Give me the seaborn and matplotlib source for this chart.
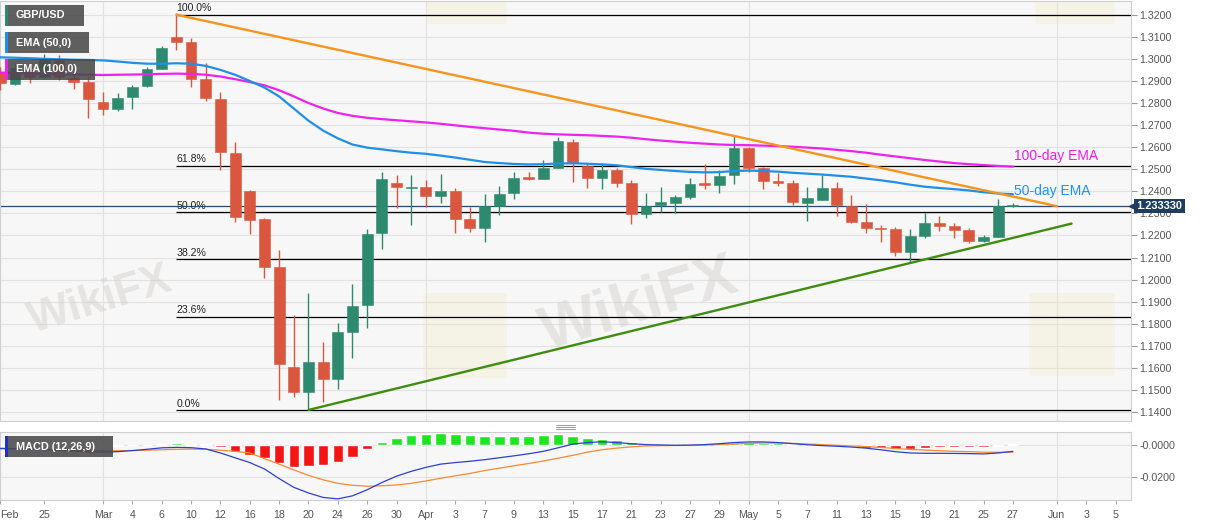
import numpy as np
import pandas as pd
import matplotlib.pyplot as plt
import seaborn as sns
from matplotlib.patches import Rectangle, FancyBboxPatch
from matplotlib.lines import Line2D

sns.set_theme(style="white")
plt.rcParams['font.family'] = ['Liberation Sans', 'DejaVu Sans']

# --- data (GBP/USD daily) ---
candle_days = pd.bdate_range('2020-02-20', '2020-05-27')
axis_days = pd.bdate_range('2020-02-20', '2020-06-05')

opens = [1.2942, 1.2886, 1.2950, 1.2920, 1.2998, 1.2912, 1.2893, 1.2806, 1.2772, 1.2825,
         1.2877, 1.2954, 1.3101, 1.3075, 1.2909, 1.2820, 1.2575, 1.2402, 1.2273, 1.2059,
         1.1606, 1.1490, 1.1626, 1.1549, 1.1762, 1.1885, 1.2210, 1.2437, 1.2416, 1.2418,
         1.2379, 1.2402, 1.2273, 1.2236, 1.2335, 1.2391, 1.2464, 1.2456, 1.2507, 1.2625,
         1.2517, 1.2459, 1.2497, 1.2440, 1.2298, 1.2338, 1.2349, 1.2376, 1.2437, 1.2429,
         1.2474, 1.2595, 1.2504, 1.2449, 1.2440, 1.2349, 1.2361, 1.2417, 1.2335, 1.2263,
         1.2233, 1.2231, 1.2124, 1.2198, 1.2257, 1.2243, 1.2225, 1.2177, 1.2192, 1.2332]
highs = [1.2965, 1.2980, 1.2975, 1.3022, 1.3018, 1.2927, 1.2920, 1.2852, 1.2847, 1.2882,
         1.2965, 1.3059, 1.3207, 1.3093, 1.2980, 1.2852, 1.2625, 1.2408, 1.2278, 1.2134,
         1.1840, 1.1938, 1.1716, 1.1802, 1.1979, 1.2231, 1.2489, 1.2474, 1.2474, 1.2452,
         1.2479, 1.2414, 1.2331, 1.2387, 1.2424, 1.2486, 1.2489, 1.2542, 1.2648, 1.2636,
         1.2527, 1.2527, 1.2504, 1.2452, 1.2394, 1.2418, 1.2384, 1.2459, 1.2524, 1.2497,
         1.2651, 1.2603, 1.2512, 1.2485, 1.2452, 1.2421, 1.2474, 1.2444, 1.2384, 1.2343,
         1.2248, 1.2240, 1.2231, 1.2301, 1.2290, 1.2255, 1.2233, 1.2202, 1.2367, 1.2346]
lows = [1.2859, 1.2882, 1.2889, 1.2912, 1.2902, 1.2862, 1.2731, 1.2746, 1.2764, 1.2772,
        1.2871, 1.2953, 1.3041, 1.2874, 1.2807, 1.2497, 1.2263, 1.2205, 1.2006, 1.1455,
        1.1470, 1.1413, 1.1448, 1.1503, 1.1644, 1.1780, 1.2138, 1.2323, 1.2248, 1.2331,
        1.2349, 1.2210, 1.2215, 1.2169, 1.2293, 1.2364, 1.2452, 1.2456, 1.2507, 1.2441,
        1.2414, 1.2409, 1.2418, 1.2251, 1.2278, 1.2308, 1.2301, 1.2364, 1.2409, 1.2391,
        1.2433, 1.2489, 1.2409, 1.2424, 1.2338, 1.2267, 1.2361, 1.2288, 1.2258, 1.2213,
        1.2169, 1.2107, 1.2082, 1.2187, 1.2222, 1.2187, 1.2165, 1.2171, 1.2192, 1.2331]
closes = [1.2889, 1.2957, 1.2920, 1.2998, 1.2917, 1.2893, 1.2820, 1.2772, 1.2822, 1.2874,
          1.2953, 1.3051, 1.3078, 1.2911, 1.2822, 1.2577, 1.2282, 1.2270, 1.2059, 1.1617,
          1.1490, 1.1626, 1.1549, 1.1762, 1.1882, 1.2207, 1.2456, 1.2418, 1.2418, 1.2379,
          1.2402, 1.2273, 1.2236, 1.2335, 1.2388, 1.2462, 1.2455, 1.2504, 1.2628, 1.2527,
          1.2459, 1.2497, 1.2440, 1.2298, 1.2335, 1.2350, 1.2376, 1.2433, 1.2429, 1.2470,
          1.2595, 1.2507, 1.2449, 1.2440, 1.2350, 1.2372, 1.2417, 1.2338, 1.2263, 1.2234,
          1.2228, 1.2124, 1.2198, 1.2255, 1.2243, 1.2227, 1.2177, 1.2192, 1.2335, 1.2334]

ema50 = [1.3007, 1.3005, 1.3003, 1.3000, 1.2998, 1.2996, 1.2995, 1.2993, 1.2988, 1.2982,
         1.2978, 1.2978, 1.2980, 1.2978, 1.2968, 1.2950, 1.2928, 1.2900, 1.2870, 1.2830,
         1.2775, 1.2720, 1.2675, 1.2640, 1.2612, 1.2598, 1.2590, 1.2582, 1.2575, 1.2570,
         1.2562, 1.2553, 1.2543, 1.2533, 1.2528, 1.2524, 1.2522, 1.2523, 1.2526, 1.2527,
         1.2525, 1.2522, 1.2518, 1.2510, 1.2502, 1.2497, 1.2492, 1.2488, 1.2486, 1.2487,
         1.2492, 1.2494, 1.2492, 1.2489, 1.2484, 1.2480, 1.2476, 1.2471, 1.2466, 1.2458,
         1.2450, 1.2441, 1.2430, 1.2421, 1.2415, 1.2410, 1.2404, 1.2396, 1.2390, 1.2387]
ema100 = [1.2938, 1.2936, 1.2934, 1.2932, 1.2930, 1.2929, 1.2928, 1.2927, 1.2928, 1.2929,
          1.2930, 1.2932, 1.2933, 1.2932, 1.2928, 1.2920, 1.2908, 1.2895, 1.2880, 1.2858,
          1.2830, 1.2800, 1.2775, 1.2755, 1.2742, 1.2733, 1.2727, 1.2722, 1.2717, 1.2712,
          1.2706, 1.2699, 1.2692, 1.2686, 1.2680, 1.2674, 1.2666, 1.2661, 1.2658, 1.2656,
          1.2654, 1.2651, 1.2648, 1.2643, 1.2636, 1.2630, 1.2625, 1.2620, 1.2616, 1.2612,
          1.2610, 1.2609, 1.2607, 1.2605, 1.2602, 1.2598, 1.2594, 1.2588, 1.2582, 1.2575,
          1.2566, 1.2558, 1.2550, 1.2542, 1.2535, 1.2528, 1.2523, 1.2519, 1.2515, 1.2512]

macd_line = [-0.0021, -0.0023, -0.0026, -0.0030, -0.0034, -0.0038, -0.0042, -0.0045, -0.0042, -0.0035,
             -0.0027, -0.0018, -0.0015, -0.0017, -0.0025, -0.0050, -0.0080, -0.0110, -0.0150, -0.0210,
             -0.0265, -0.0300, -0.0328, -0.0337, -0.0318, -0.0280, -0.0235, -0.0195, -0.0165, -0.0140,
             -0.0120, -0.0110, -0.0102, -0.0092, -0.0080, -0.0068, -0.0055, -0.0040, -0.0018, 0.0005,
             0.0015, 0.0020, 0.0015, 0.0008, 0.0002, 0.0000, -0.0002, -0.0001, 0.0002, 0.0008,
             0.0015, 0.0019, 0.0019, 0.0015, 0.0008, 0.0001, -0.0004, -0.0008, -0.0013, -0.0020,
             -0.0030, -0.0042, -0.0050, -0.0052, -0.0052, -0.0053, -0.0054, -0.0056, -0.0050, -0.0040]
macd_signal = [-0.0025, -0.0026, -0.0027, -0.0028, -0.0030, -0.0031, -0.0033, -0.0035, -0.0036, -0.0035,
               -0.0033, -0.0030, -0.0027, -0.0026, -0.0027, -0.0033, -0.0040, -0.0050, -0.0085, -0.0120,
               -0.0156, -0.0190, -0.0218, -0.0240, -0.0252, -0.0258, -0.0255, -0.0250, -0.0240, -0.0225,
               -0.0208, -0.0193, -0.0178, -0.0160, -0.0145, -0.0130, -0.0116, -0.0100, -0.0083, -0.0065,
               -0.0045, -0.0030, -0.0020, -0.0012, -0.0006, -0.0004, -0.0003, -0.0002, -0.0001, 0.0002,
               0.0006, 0.0010, 0.0012, 0.0012, 0.0010, 0.0006, 0.0002, -0.0002, -0.0006, -0.0010,
               -0.0016, -0.0022, -0.0028, -0.0032, -0.0036, -0.0040, -0.0042, -0.0045, -0.0046, -0.0045]
macd_hist = [-0.0008, -0.0008, -0.0008, -0.0008, -0.0008, -0.0008, -0.0008, -0.0008, -0.0006, -0.0003,
             -0.0001, 0.0006, 0.0012, 0.0009, 0.0004, -0.0014, -0.0046, -0.0062, -0.0083, -0.0114,
             -0.0135, -0.0131, -0.0127, -0.0104, -0.0073, -0.0027, 0.0021, 0.0046, 0.0062, 0.0069,
             0.0073, 0.0069, 0.0062, 0.0058, 0.0058, 0.0058, 0.0058, 0.0060, 0.0067, 0.0058,
             0.0044, 0.0035, 0.0031, 0.0017, 0.0006, 0.0002, 0.0003, 0.0004, 0.0005, 0.0006,
             0.0015, 0.0019, 0.0015, 0.0010, 0.0004, -0.0002, -0.0003, -0.0006, -0.0008, -0.0019,
             -0.0021, -0.0025, -0.0025, -0.0021, -0.0015, -0.0012, -0.0010, -0.0010, -0.0004, 0.0004]

fib_labels = ['100.0%', '61.8%', '50.0%', '38.2%', '23.6%', '0.0%']
fib_levels = [1.3200, 1.2516, 1.2305, 1.2094, 1.1833, 1.1410]
fib_start = '2020-03-09'

resistance_dates = ['2020-03-09', '2020-06-01']
resistance_values = [1.3200, 1.2333]
support_dates = ['2020-03-20', '2020-06-02']
support_values = [1.1410, 1.2254]

last_price = 1.23333

tick_dates = ['2020-02-20', '2020-02-25', '2020-03-02', '2020-03-04', '2020-03-06', '2020-03-10',
              '2020-03-12', '2020-03-16', '2020-03-18', '2020-03-20', '2020-03-24', '2020-03-26',
              '2020-03-30', '2020-04-01', '2020-04-03', '2020-04-07', '2020-04-09', '2020-04-13',
              '2020-04-15', '2020-04-17', '2020-04-21', '2020-04-23', '2020-04-27', '2020-04-29',
              '2020-05-01', '2020-05-05', '2020-05-07', '2020-05-11', '2020-05-13', '2020-05-15',
              '2020-05-19', '2020-05-21', '2020-05-25', '2020-05-27', '2020-06-01', '2020-06-03',
              '2020-06-05']
tick_labels = ['Feb', '25', 'Mar', '4', '6', '10', '12', '16', '18', '20', '24', '26', '30', 'Apr',
               '3', '7', '9', '13', '15', '17', '21', '23', '27', '29', 'May', '5', '7', '11', '13',
               '15', '19', '21', '25', '27', 'Jun', '3', '5']
month_dates = ['2020-03-02', '2020-04-01', '2020-05-01', '2020-06-01']

# --- styling ---
GREEN = '#2e8a6e'
RED = '#d9563f'
BG = '#f7f7f7'
GRID = '#e2e2e2'
SPINE = '#cfcfcf'
TXT = '#555555'


def pos_of(dates):
    return axis_days.get_indexer(pd.to_datetime(dates))


df = pd.DataFrame({'pos': pos_of(candle_days), 'open': opens, 'high': highs,
                   'low': lows, 'close': closes, 'ema50': ema50, 'ema100': ema100,
                   'macd': macd_line, 'signal': macd_signal, 'hist': macd_hist})

W, H = 1207, 526
fig = plt.figure(figsize=(W / 100, H / 100), dpi=100)
fig.patch.set_facecolor('white')


def fx(px):
    return px / W


def fy(py):
    return 1 - py / H


ax = fig.add_axes([0, fy(421), fx(1131), (421 - 1) / H])
mx = fig.add_axes([0, fy(500), fx(1131), (500 - 432) / H], sharex=ax)

XMAX = 77.05
for a in (ax, mx):
    a.set_facecolor(BG)
    for s in a.spines.values():
        s.set_color(SPINE)
        s.set_linewidth(0.8)
    for m in pos_of(month_dates):
        a.axvline(m, color=GRID, lw=0.8, zorder=0.6)
ax.set_xlim(-0.02, XMAX)

# --- price panel ---
ax.set_ylim(1.13599, 1.32620)
ax.set_yticks(np.round(np.arange(1.14, 1.3201, 0.01), 2))
ax.yaxis.tick_right()
ax.yaxis.set_major_formatter(plt.FuncFormatter(lambda v, p: f'{v:.4f}'))
ax.tick_params(axis='y', labelsize=7.7, labelcolor=TXT, color='#999999',
               length=4, width=0.8, pad=2, right=True)
ax.tick_params(axis='x', bottom=False, labelbottom=False)
for yv in ax.get_yticks():
    ax.axhline(yv, color=GRID, lw=0.8, zorder=0.5)

# faint watermark
for (px, py, fs) in [(100, 300, 32), (640, 305, 44)]:
    ax.text(fx(px), fy(py), 'WikiFX', transform=fig.transFigure, fontsize=fs,
            fontweight='bold', color='#d2cec9', alpha=0.45, rotation=17,
            ha='center', va='center', zorder=0.7, clip_on=True)
for (x0, y0, x1, y1) in [(428, 295, 502, 376), (1034, 295, 1110, 374),
                         (432, -20, 502, 22), (1040, -20, 1110, 22)]:
    ax.add_patch(FancyBboxPatch((fx(x0), fy(y1)), fx(x1 - x0), (y1 - y0) / H,
                                boxstyle='round,pad=0.004', transform=fig.transFigure,
                                fc='#f3e4b6', ec='none', alpha=0.25, zorder=0.7,
                                clip_on=True))

# fibonacci retracement
f0 = pos_of([fib_start])[0]
ax.hlines(fib_levels, f0, XMAX, color='black', lw=0.9, zorder=2)
for lab, lv in zip(fib_labels, fib_levels):
    ax.annotate(lab, (f0, lv), xytext=(0, 1), textcoords='offset points',
                fontsize=7.6, color='#222222', ha='left', va='bottom', zorder=2)

# current price line
ax.axhline(last_price, color='#2c4a6e', lw=0.9, zorder=2)

# candles
up = df['close'] >= df['open']
cols = np.where(up, GREEN, RED)
body_lo = np.minimum(df['open'], df['close'])
body_h = np.maximum(np.abs(df['close'] - df['open']), 0.0004)
ax.vlines(df['pos'], df['low'], df['high'], colors=cols, lw=1.0, zorder=3)
ax.bar(df['pos'], body_h, bottom=body_lo, width=0.74, color=cols,
       edgecolor=cols, lw=0.4, zorder=3.2)

# EMAs
sns.lineplot(data=df, x='pos', y='ema100', ax=ax, color='#ee22ee', lw=1.6, zorder=4)
sns.lineplot(data=df, x='pos', y='ema50', ax=ax, color='#1f90e6', lw=1.6, zorder=4)

# trend lines
ax.plot(pos_of(resistance_dates), resistance_values, color='#f7941d', lw=1.7, zorder=4.5)
ax.plot(pos_of(support_dates), support_values, color='#3f8c10', lw=1.7, zorder=4.5)

ax.text(69.07, 1.2560, '100-day EMA', color='#e91ee9', fontsize=10, va='center', zorder=5)
ax.text(69.07, 1.2401, '50-day EMA', color='#1e90ff', fontsize=10, va='center', zorder=5)
ax.set_xlabel('')
ax.set_ylabel('')

# price tag on the axis
ytr = ax.get_yaxis_transform()
ax.text(1.0045, last_price, '1.233330', transform=ytr, fontsize=7.9, fontweight='bold',
        color='white', va='center', ha='left', zorder=10, clip_on=False,
        bbox=dict(boxstyle='square,pad=0.22', fc='#1f3d63', ec='none'))
ax.plot([1.0022], [last_price], marker='<', ms=5.5, color='#1f3d63', transform=ytr,
        clip_on=False, zorder=10)

# --- MACD panel ---
mx.set_ylim(-0.0344, 0.0081)
mx.axhline(0, color=GRID, lw=0.8, zorder=0.5)
mx.axhline(-0.02, color=GRID, lw=0.8, zorder=0.5)
hcols = np.where(df['hist'] >= 0, '#1ee61e', '#f51414')
mx.bar(df['pos'], df['hist'], width=0.72, color=hcols, zorder=2)
sns.lineplot(data=df, x='pos', y='signal', ax=mx, color='#f58a32', lw=0.9, zorder=3)
sns.lineplot(data=df, x='pos', y='macd', ax=mx, color='#2c3fcf', lw=0.9, zorder=3)
mx.yaxis.tick_right()
mx.set_yticks([0, -0.02])
mx.set_yticklabels(['-0.0000', '-0.0200'])
mx.tick_params(axis='y', labelsize=7.7, labelcolor=TXT, color='#999999',
               length=4, width=0.8, pad=2, right=True)
mx.set_xticks(pos_of(tick_dates))
mx.set_xticklabels(tick_labels)
mx.tick_params(axis='x', labelsize=7.7, labelcolor=TXT, color='#aaaaaa',
               length=3, width=0.8, pad=4, bottom=True, direction='out')
mx.get_xticklabels()[0].set_ha('left')
mx.set_xlim(-0.02, XMAX)
mx.set_xlabel('')
mx.set_ylabel('')

# --- indicator labels (top-left boxes) ---
boxes = [('GBP/USD', 5, 84, 5, 26, '#2e8a6e'),
         ('EMA (50,0)', 5, 89, 32, 53, '#1f90e6'),
         ('EMA (100,0)', 5, 95, 59, 80, '#ee22ee'),
         ('MACD (12,26,9)', 5, 113, 436, 457, '#2233bb')]
for lab, x0, x1, y0, y1, acc in boxes:
    fig.add_artist(Rectangle((fx(x0), fy(y1)), fx(x1 - x0), (y1 - y0) / H,
                             transform=fig.transFigure, fc='#4a4a4a', ec='none',
                             alpha=0.88, zorder=5))
    fig.add_artist(Rectangle((fx(x0), fy(y1)), fx(2.5), (y1 - y0) / H,
                             transform=fig.transFigure, fc=acc, ec='none', zorder=6))
    fig.text(fx(x0 + 11), fy((y0 + y1) / 2), lab, color='white', fontsize=7.8,
             fontweight='bold', va='center', ha='left', zorder=7)

# panel handle
for dy in (425, 427, 429):
    fig.add_artist(Line2D([fx(556), fx(575)], [fy(dy), fy(dy)], color='#888888',
                          lw=0.6, transform=fig.transFigure))

fig.savefig('out.png', dpi=100)
